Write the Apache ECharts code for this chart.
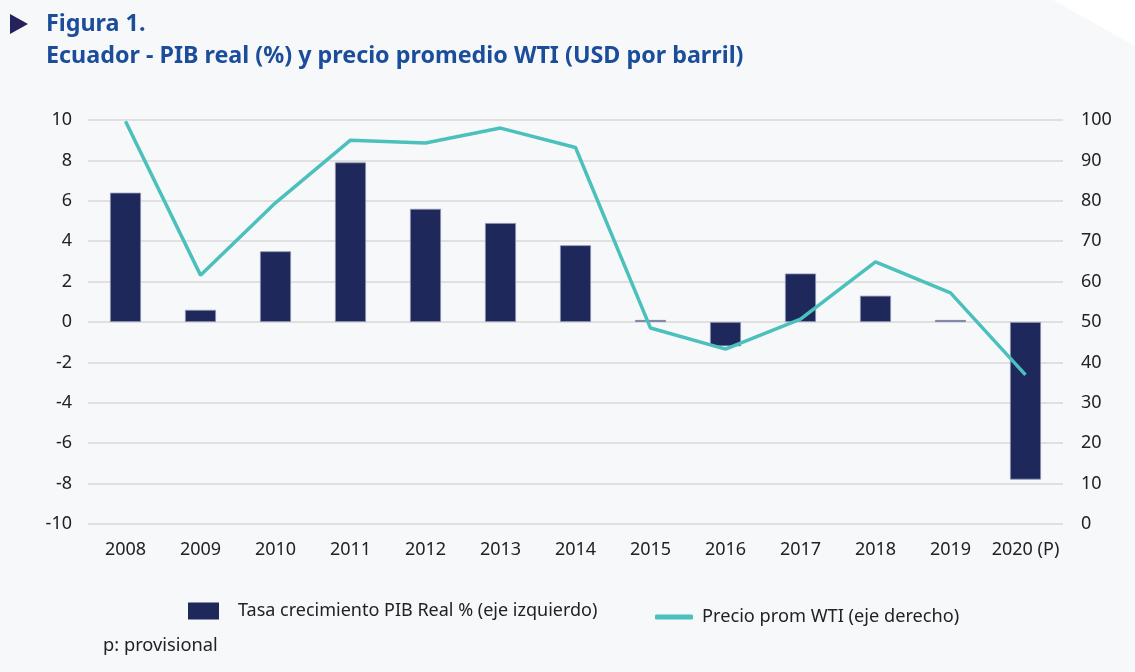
<!DOCTYPE html>
<html>
<head>
<meta charset="utf-8">
<script src="https://cdn.jsdelivr.net/npm/echarts@6/dist/echarts.min.js"></script>
<style>
  html, body { margin: 0; padding: 0; background: #ffffff; }
  #main { width: 1135px; height: 672px; }
</style>
</head>
<body>
<div id="main"></div>
<script>
// datos
const years = ["2008", "2009", "2010", "2011", "2012", "2013", "2014", "2015", "2016", "2017", "2018", "2019", "2020 (P)"];
const pibReal = [6.4, 0.6, 3.5, 7.9, 5.6, 4.9, 3.8, 0.1, -1.2, 2.4, 1.3, 0.1, -7.8];
const wtiPrice = [99.7, 61.6, 79.5, 95.0, 94.3, 98.0, 93.2, 48.5, 43.3, 50.7, 64.9, 57.2, 36.9];
const leftTicks = [-10, 10, 2];   // min, max, interval
const rightTicks = [0, 100, 10];

const font = "'Noto Sans', 'Open Sans', sans-serif";
const chart = echarts.init(document.getElementById("main"));

const options = {
  animation: false,
  textStyle: { fontFamily: font },
  graphic: [
    {
      // fondo gris con la esquina cortada
      type: "polygon",
      z: -10,
      shape: { points: [[0, 0], [1053, 0], [1135, 46], [1135, 672], [0, 672]] },
      style: { fill: "#f7f8fa" },
    },
    {
      type: "polygon",
      shape: { points: [[10, 14], [28, 24], [10, 34]] },
      style: { fill: "#25215a" },
    },
    {
      type: "text",
      left: 103,
      top: 637,
      style: { text: "p: provisional", fill: "#222", fontSize: 18.3, fontFamily: font },
    },
  ],
  title: {
    text: "Figura 1.\nEcuador - PIB real (%) y precio promedio WTI (USD por barril)",
    left: 41,
    top: 3,
    textStyle: {
      color: "#1b4d9b",
      fontSize: 23.3,
      fontWeight: "bold",
      lineHeight: 32,
      fontFamily: font,
    },
  },
  legend: [
    {
      data: [{ name: "Tasa crecimiento PIB Real % (eje izquierdo)", icon: "rect" }],
      left: 183,
      top: 597,
      itemWidth: 31,
      itemHeight: 17,
      itemGap: 10,
      itemStyle: { borderWidth: 0 },
      textStyle: { fontSize: 18, color: "#222", fontFamily: font, padding: [0, 0, 0, 14] },
    },
    {
      data: [{ name: "Precio prom WTI (eje derecho)", icon: "roundRect" }],
      left: 650,
      top: 603,
      itemWidth: 38,
      itemHeight: 5,
      textStyle: { fontSize: 18.2, color: "#222", fontFamily: font, padding: [0, 0, 0, 4] },
    },
  ],
  grid: { left: 88, right: 72, top: 120, bottom: 148 },
  xAxis: {
    type: "category",
    data: years,
    axisLine: { show: false },
    axisTick: { show: false },
    axisLabel: { color: "#222", fontSize: 18, margin: 17, interval: 0 },
  },
  yAxis: [
    {
      type: "value",
      min: leftTicks[0],
      max: leftTicks[1],
      interval: leftTicks[2],
      axisLine: { show: false },
      axisTick: { show: false },
      axisLabel: { color: "#222", fontSize: 18, margin: 16 },
      splitLine: { lineStyle: { color: "#d9d9d9", width: 1.5 } },
    },
    {
      type: "value",
      min: rightTicks[0],
      max: rightTicks[1],
      interval: rightTicks[2],
      axisLine: { show: false },
      axisTick: { show: false },
      axisLabel: { color: "#222", fontSize: 18, margin: 18 },
      splitLine: { show: false },
    },
  ],
  series: [
    {
      name: "Tasa crecimiento PIB Real % (eje izquierdo)",
      type: "bar",
      yAxisIndex: 0,
      data: pibReal,
      barWidth: 31,
      itemStyle: { color: "#1e285b", borderColor: "#8d93b3", borderWidth: 0.8 },
    },
    {
      name: "Precio prom WTI (eje derecho)",
      type: "line",
      yAxisIndex: 1,
      data: wtiPrice,
      symbol: "none",
      lineStyle: { color: "#4bc0bc", width: 3.5 },
      itemStyle: { color: "#4bc0bc" },
    },
  ],
};
chart.setOption(options);
</script>
</body>
</html>
